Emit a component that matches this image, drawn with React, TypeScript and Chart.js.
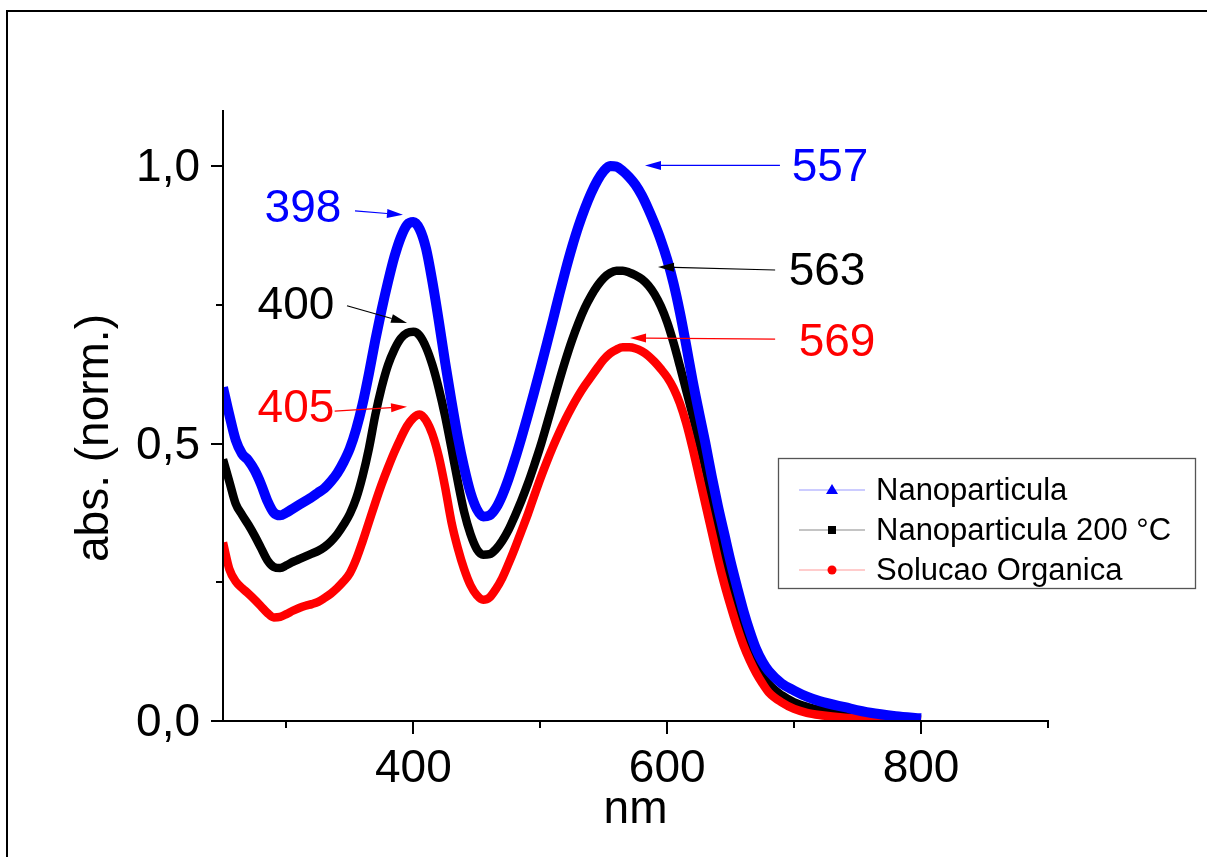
import React, { useEffect, useRef } from 'react';
import { Chart, registerables } from 'chart.js';

Chart.register(...registerables);

// ---- data ----
const wavelengths = [
  250, 255, 260, 265, 270, 275, 280, 285, 290, 295, 300, 305, 310, 315, 320, 325, 330, 335, 340, 345,
  350, 355, 360, 365, 370, 375, 380, 385, 390, 395, 400, 405, 410, 415, 420, 425, 430, 435, 440, 445,
  450, 455, 460, 465, 470, 475, 480, 485, 490, 495, 500, 505, 510, 515, 520, 525, 530, 535, 540, 545,
  550, 555, 560, 565, 570, 575, 580, 585, 590, 595, 600, 605, 610, 615, 620, 625, 630, 635, 640, 645,
  650, 655, 660, 665, 670, 675, 680, 690, 700, 710, 720, 740, 760, 780, 800,
];

const nanoparticula = [
  0.60, 0.55, 0.505, 0.48, 0.468, 0.45, 0.425, 0.395, 0.374, 0.369, 0.374, 0.381, 0.388, 0.395, 0.402, 0.41, 0.418, 0.43, 0.445, 0.465,
  0.49, 0.525, 0.57, 0.625, 0.685, 0.74, 0.79, 0.835, 0.87, 0.893, 0.898, 0.885, 0.85, 0.79, 0.72, 0.645, 0.575, 0.51, 0.455, 0.41,
  0.38, 0.367, 0.369, 0.382, 0.405, 0.435, 0.47, 0.508, 0.548, 0.59, 0.633, 0.677, 0.722, 0.768, 0.812, 0.853, 0.89, 0.922, 0.95, 0.973,
  0.99, 0.999, 0.998, 0.99, 0.979, 0.965, 0.946, 0.922, 0.895, 0.865, 0.83, 0.787, 0.735, 0.675, 0.612, 0.555, 0.50, 0.44, 0.385, 0.335,
  0.285, 0.24, 0.197, 0.16, 0.128, 0.105, 0.088, 0.066, 0.053, 0.042, 0.034, 0.023, 0.013, 0.007, 0.003,
];

const nanoparticula200 = [
  0.47, 0.43, 0.39, 0.37, 0.352, 0.332, 0.31, 0.288, 0.276, 0.274, 0.279, 0.285, 0.29, 0.295, 0.30, 0.305, 0.312, 0.322, 0.335, 0.352,
  0.372, 0.40, 0.44, 0.49, 0.55, 0.60, 0.64, 0.668, 0.688, 0.698, 0.70, 0.693, 0.672, 0.64, 0.598, 0.548, 0.49, 0.43, 0.375, 0.335,
  0.308, 0.298, 0.299, 0.308, 0.323, 0.343, 0.368, 0.395, 0.425, 0.458, 0.493, 0.532, 0.572, 0.612, 0.65, 0.685, 0.716, 0.743, 0.765, 0.783,
  0.797, 0.806, 0.81, 0.81, 0.807, 0.802, 0.795, 0.784, 0.768, 0.746, 0.717, 0.68, 0.638, 0.594, 0.55, 0.503, 0.455, 0.40, 0.345, 0.295,
  0.248, 0.205, 0.167, 0.133, 0.105, 0.083, 0.065, 0.045, 0.032, 0.024, 0.018, 0.011, 0.006, 0.003, 0.001,
];

const solucaoOrganica = [
  0.32, 0.272, 0.25, 0.238, 0.228, 0.217, 0.205, 0.193, 0.185, 0.186, 0.191, 0.197, 0.202, 0.206, 0.209, 0.213, 0.22, 0.228, 0.238, 0.25,
  0.265, 0.29, 0.322, 0.357, 0.392, 0.425, 0.455, 0.483, 0.508, 0.53, 0.545, 0.551, 0.54, 0.515, 0.475, 0.42, 0.357, 0.31, 0.272, 0.243,
  0.225, 0.217, 0.221, 0.236, 0.256, 0.282, 0.31, 0.34, 0.37, 0.403, 0.435, 0.465, 0.493, 0.519, 0.543, 0.565, 0.585, 0.603, 0.619, 0.635,
  0.65, 0.661, 0.668, 0.672, 0.672, 0.67, 0.665, 0.657, 0.646, 0.633, 0.618, 0.598, 0.571, 0.535, 0.49, 0.44, 0.39, 0.34, 0.29, 0.245,
  0.205, 0.168, 0.135, 0.108, 0.085, 0.066, 0.05, 0.032, 0.02, 0.013, 0.009, 0.004, 0.002, 0.001, 0.0,
];

const seriesNames = ['Nanoparticula', 'Nanoparticula 200 °C', 'Solucao Organica'];

const xMajorTicks = [400, 600, 800];
const xTickLabels = ['400', '600', '800'];
const xMinorTicks = [300, 500, 700, 900];
const yMajorTicks = [0, 0.5, 1.0];
const yTickLabels = ['0,0', '0,5', '1,0'];
const yMinorTicks = [0.25, 0.75];

const xTitle = 'nm';
const yTitle = 'abs. (norm.)';

// peak annotations (data coordinates)
const peakLabels = ['398', '400', '405', '557', '563', '569'];
const peakLabelX = [313, 307.5, 307.5, 728.3, 725.9, 733.8];
const peakLabelY = [0.925, 0.75, 0.564, 0.999, 0.8115, 0.682];
const arrowTailX = [354, 347.7, 338, 688.8, 685, 685];
const arrowTailY = [0.918, 0.747, 0.557, 1.0, 0.8115, 0.687];
const arrowTipX = [391.8, 395, 395, 582.5, 592.7, 570.7];
const arrowTipY = [0.911, 0.716, 0.565, 1.0, 0.817, 0.689];
const peakSeries = [0, 1, 2, 0, 1, 2];

const FONT = "'Liberation Sans', Arial, sans-serif";
const COLORS = ['#0000ff', '#000000', '#ff0000'];
const LEGEND_LINE_COLORS = ['#9a9aff', '#8a8a8a', '#ff9a9a'];

const decorPlugin = {
  id: 'decor',
  afterDatasetsDraw(chart: any) {
    const ctx = chart.ctx as CanvasRenderingContext2D;
    const xs = chart.scales.x;
    const ys = chart.scales.y;
    const ca = chart.chartArea;
    ctx.save();

    // outer frame
    ctx.fillStyle = '#000';
    ctx.fillRect(6, 10, 2, 857);
    ctx.fillRect(6, 10, 1201, 2);

    // axes
    ctx.strokeStyle = '#000';
    ctx.lineWidth = 2;
    ctx.lineCap = 'butt';
    ctx.beginPath();
    ctx.moveTo(ca.left - 1, ca.bottom + 1);
    ctx.lineTo(ca.right, ca.bottom + 1);
    ctx.moveTo(ca.left, ca.top);
    ctx.lineTo(ca.left, ca.bottom + 2);
    ctx.stroke();

    // x ticks
    ctx.beginPath();
    xMajorTicks.forEach((v) => {
      const px = Math.round(xs.getPixelForValue(v));
      ctx.moveTo(px, ca.bottom);
      ctx.lineTo(px, ca.bottom + 14);
    });
    xMinorTicks.forEach((v) => {
      const px = Math.round(xs.getPixelForValue(v));
      ctx.moveTo(px, ca.bottom);
      ctx.lineTo(px, ca.bottom + 8);
    });
    // y ticks
    yMajorTicks.forEach((v) => {
      const py = Math.round(ys.getPixelForValue(v)) + 1;
      ctx.moveTo(ca.left, py);
      ctx.lineTo(ca.left - 12, py);
    });
    yMinorTicks.forEach((v) => {
      const py = Math.round(ys.getPixelForValue(v)) + 1;
      ctx.moveTo(ca.left, py);
      ctx.lineTo(ca.left - 7, py);
    });
    ctx.stroke();

    // tick labels
    ctx.fillStyle = '#000';
    ctx.font = `46px ${FONT}`;
    ctx.textAlign = 'center';
    ctx.textBaseline = 'alphabetic';
    xMajorTicks.forEach((v, i) => {
      ctx.fillText(xTickLabels[i], xs.getPixelForValue(v), ca.bottom + 62);
    });
    ctx.textAlign = 'right';
    yMajorTicks.forEach((v, i) => {
      ctx.fillText(yTickLabels[i], ca.left - 23, ys.getPixelForValue(v) + 16);
    });

    // axis titles
    ctx.textAlign = 'center';
    ctx.fillText(xTitle, (ca.left + ca.right) / 2, ca.bottom + 103);
    ctx.save();
    ctx.translate(95, (ca.top + ca.bottom) / 2 + 23);
    ctx.rotate(-Math.PI / 2);
    ctx.textBaseline = 'middle';
    ctx.fillText(yTitle, 0, 0);
    ctx.restore();

    // peak annotations
    peakLabels.forEach((lab, i) => {
      const col = COLORS[peakSeries[i]];
      ctx.fillStyle = col;
      ctx.strokeStyle = col;
      ctx.font = `46px ${FONT}`;
      ctx.textAlign = 'center';
      ctx.textBaseline = 'middle';
      ctx.fillText(lab, xs.getPixelForValue(peakLabelX[i]), ys.getPixelForValue(peakLabelY[i]) + 2);
      const x1 = xs.getPixelForValue(arrowTailX[i]);
      const y1 = ys.getPixelForValue(arrowTailY[i]);
      const x2 = xs.getPixelForValue(arrowTipX[i]);
      const y2 = ys.getPixelForValue(arrowTipY[i]);
      const ang = Math.atan2(y2 - y1, x2 - x1);
      const hl = 16;
      const hw = 4.5;
      ctx.lineWidth = 1.2;
      ctx.beginPath();
      ctx.moveTo(x1, y1);
      ctx.lineTo(x2 - hl * Math.cos(ang), y2 - hl * Math.sin(ang));
      ctx.stroke();
      ctx.beginPath();
      ctx.moveTo(x2, y2);
      ctx.lineTo(x2 - hl * Math.cos(ang) + hw * Math.sin(ang), y2 - hl * Math.sin(ang) - hw * Math.cos(ang));
      ctx.lineTo(x2 - hl * Math.cos(ang) - hw * Math.sin(ang), y2 - hl * Math.sin(ang) + hw * Math.cos(ang));
      ctx.closePath();
      ctx.fill();
    });

    // legend
    const lx = 778.5, ly = 458.5, lw = 417, lh = 130;
    ctx.fillStyle = '#fff';
    ctx.fillRect(lx, ly, lw, lh);
    ctx.strokeStyle = '#555';
    ctx.lineWidth = 1.3;
    ctx.strokeRect(lx, ly, lw, lh);
    ctx.font = `31px ${FONT}`;
    ctx.textAlign = 'left';
    ctx.textBaseline = 'middle';
    seriesNames.forEach((name, i) => {
      const cy = 490 + i * 40;
      ctx.strokeStyle = LEGEND_LINE_COLORS[i];
      ctx.lineWidth = 1.2;
      ctx.beginPath();
      ctx.moveTo(799, cy);
      ctx.lineTo(865, cy);
      ctx.stroke();
      ctx.fillStyle = COLORS[i];
      const mx = 832;
      if (i === 0) {
        ctx.beginPath();
        ctx.moveTo(mx, cy - 6);
        ctx.lineTo(mx + 6, cy + 4);
        ctx.lineTo(mx - 6, cy + 4);
        ctx.closePath();
        ctx.fill();
      } else if (i === 1) {
        ctx.fillRect(mx - 4, cy - 4, 8, 8);
      } else {
        ctx.beginPath();
        ctx.arc(mx, cy, 4.5, 0, Math.PI * 2);
        ctx.fill();
      }
      ctx.fillStyle = '#000';
      ctx.fillText(name, 876, cy + 1);
    });

    ctx.restore();
  },
};

export default function App() {
  const canvasRef = useRef<HTMLCanvasElement | null>(null);

  useEffect(() => {
    if (!canvasRef.current) return;
    const mk = (vals: number[]) => wavelengths.map((x, i) => ({ x, y: vals[i] }));
    const chart = new Chart(canvasRef.current, {
      type: 'line',
      data: {
        datasets: [
          {
            label: seriesNames[0],
            data: mk(nanoparticula),
            borderColor: COLORS[0],
            borderWidth: 10,
            pointRadius: 0,
            cubicInterpolationMode: 'monotone',
            order: 0,
          },
          {
            label: seriesNames[1],
            data: mk(nanoparticula200),
            borderColor: COLORS[1],
            borderWidth: 8.5,
            pointRadius: 0,
            cubicInterpolationMode: 'monotone',
            order: 2,
          },
          {
            label: seriesNames[2],
            data: mk(solucaoOrganica),
            borderColor: COLORS[2],
            borderWidth: 8.5,
            pointRadius: 0,
            cubicInterpolationMode: 'monotone',
            order: 1,
          },
        ],
      },
      options: {
        responsive: false,
        animation: false,
        devicePixelRatio: 1,
        layout: { padding: { left: 223, top: 110, right: 159, bottom: 137 } },
        plugins: { legend: { display: false }, tooltip: { enabled: false } },
        scales: {
          x: { type: 'linear', min: 250, max: 900, display: false },
          y: { type: 'linear', min: 0, max: 1.1, display: false },
        },
      },
      plugins: [decorPlugin],
    } as any);
    return () => chart.destroy();
  }, []);

  return (
    <div style={{ position: 'fixed', left: 0, top: 0, width: 1207, height: 857, background: '#fff' }}>
      <canvas ref={canvasRef} width={1207} height={857} style={{ display: 'block' }} />
    </div>
  );
}
